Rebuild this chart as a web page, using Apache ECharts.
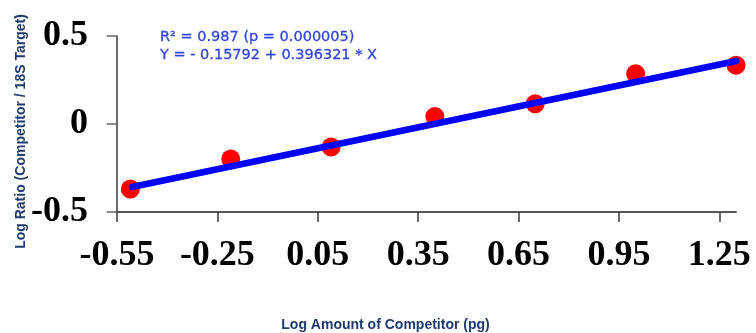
<!DOCTYPE html>
<html><head><meta charset="utf-8">
<script src="https://cdn.jsdelivr.net/npm/echarts@6/dist/echarts.min.js"></script>
<style>html,body{margin:0;padding:0;background:#fff}#c{width:756px;height:333px}</style>
</head><body><div id="c"></div>
<script>
const pointX = [-0.51, -0.21, 0.09, 0.40, 0.70, 1.00, 1.30];
const pointY = [-0.369, -0.199, -0.131, 0.043, 0.115, 0.286, 0.334];
const fitX = [-0.505, 1.301];
const fitY = [-0.358, 0.358];
const xTicks = [-0.55, -0.25, 0.05, 0.35, 0.65, 0.95, 1.25];
const yTicks = [-0.5, 0, 0.5];
const statLines = ['R\u00B2 = 0.987 (p = 0.000005)', 'Y = - 0.15792 + 0.396321 * X'];
const xTitle = 'Log Amount of Competitor (pg)';
const yTitle = 'Log Ratio (Competitor / 18S Target)';

const chart = echarts.init(document.getElementById('c'), null, {renderer: 'canvas'});
const serif = '"Liberation Serif", "DejaVu Serif", serif';
const sans = '"Liberation Sans", Arial, sans-serif';
const axisColor = '#3a3a3a';

chart.setOption({
  animation: false,
  backgroundColor: '#fff',
  grid: {left: 117, right: 20, top: 36, bottom: 121, containLabel: false},
  xAxis: {
    type: 'value', min: -0.55, max: 1.30,
    splitLine: {show: false},
    axisLine: {onZero: false, lineStyle: {color: '#555', width: 2}},
    axisTick: {show: true, length: 10, inside: false, customValues: xTicks, lineStyle: {color: axisColor, width: 1.5}},
    axisLabel: {customValues: xTicks, margin: 26, color: '#000', fontFamily: serif, fontWeight: 'bold', fontSize: 36,
      formatter: v => v.toFixed(2)}
  },
  yAxis: {
    type: 'value', min: -0.5, max: 0.5, interval: 0.5,
    splitLine: {show: false},
    axisLine: {onZero: false, lineStyle: {color: axisColor, width: 1.5}},
    axisTick: {show: true, length: 10, inside: false, customValues: yTicks, lineStyle: {color: '#666', width: 1.5}},
    axisLabel: {customValues: yTicks, margin: 29, color: '#000', fontFamily: serif, fontWeight: 'bold', fontSize: 36,
      formatter: v => (v === 0 ? '0' : v.toFixed(1))}
  },
  series: [
    {type: 'scatter', data: pointX.map((x, i) => [x, pointY[i]]), symbol: 'circle', symbolSize: 19,
      itemStyle: {color: '#ff0000', opacity: 1}, clip: false, z: 2},
    {type: 'line', data: fitX.map((x, i) => [x, fitY[i]]), showSymbol: false, symbol: 'none',
      lineStyle: {color: '#0000ff', width: 6.5, cap: 'round', opacity: 1}, clip: false, z: 3}
  ],
  graphic: [
    {type: 'text', x: 160, y: 37.5, style: {text: statLines[0], fill: '#2f45dc', font: '14.5px "DejaVu Sans", sans-serif', align: 'left', verticalAlign: 'middle', stroke: '#2f45dc', lineWidth: 0.3}},
    {type: 'text', x: 160, y: 55.5, style: {text: statLines[1], fill: '#2f45dc', font: '14.5px "DejaVu Sans", sans-serif', align: 'left', verticalAlign: 'middle', stroke: '#2f45dc', lineWidth: 0.3}},
    {type: 'text', x: 385.5, y: 325, style: {text: xTitle, fill: '#1c3b72', font: 'bold 14px ' + sans, align: 'center', verticalAlign: 'middle'}},
    {type: 'text', x: 21.5, y: 131.5, rotation: Math.PI / 2, style: {text: yTitle, fill: '#1c3b72', font: 'bold 14px ' + sans, align: 'center', verticalAlign: 'middle'}}
  ]
});
</script></body></html>
